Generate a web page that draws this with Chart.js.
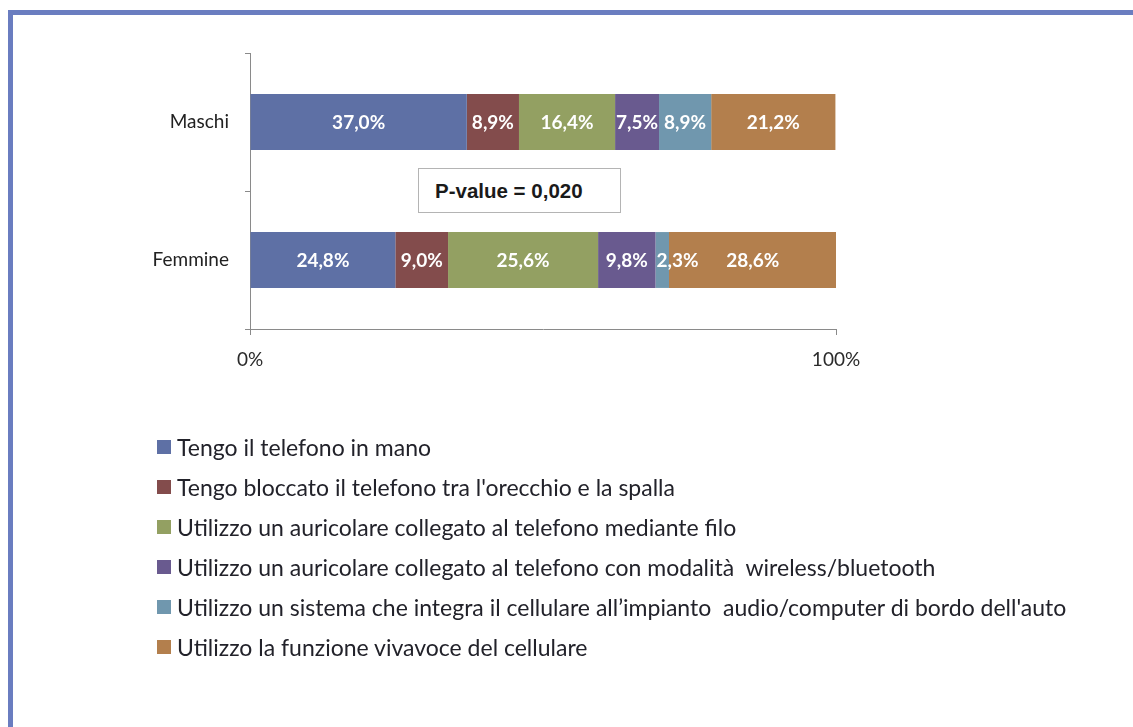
<!DOCTYPE html>
<html>
<head>
<meta charset="utf-8">
<script src="https://cdn.jsdelivr.net/npm/chart.js@4/dist/chart.umd.min.js"></script>
<style>
  html, body { margin: 0; padding: 0; background: #fff; overflow: hidden; }
  #wrap { position: relative; width: 1133px; height: 727px; overflow: hidden; background: #fff; }
  #frame { position: absolute; left: 8px; top: 10px; width: 1200px; height: 800px;
           border-left: 5px solid #6A7DC0; border-top: 5px solid #6A7DC0; box-sizing: border-box; }
  #chart { position: absolute; left: 0; top: 0; }
  #pbox { position: absolute; left: 418px; top: 168px; width: 203px; height: 45px; box-sizing: border-box;
          border: 1px solid #b4b4b4; background: #fff; font-family: "Liberation Sans", Arial, sans-serif;
          font-weight: bold; font-size: 20.5px; color: #1a1a1a; line-height: 43px; padding-left: 16px; }
  #legend { position: absolute; left: 157px; top: 427px; font-family: Lato, "Open Sans", sans-serif;
            font-size: 23px; color: #22222a; }
  .row { height: 40px; display: flex; align-items: center; white-space: pre; }
  .sw { width: 14px; height: 14px; margin-right: 6px; flex: none; }
</style>
</head>
<body>
<div id="wrap">
  <div id="frame"></div>
  <canvas id="chart" width="1133" height="727"></canvas>
  <div id="pbox"></div>
  <div id="legend"></div>
</div>
<script>
const categories = ['Maschi', 'Femmine'];
const seriesLabels = [
  'Tengo il telefono in mano',
  "Tengo bloccato il telefono tra l'orecchio e la spalla",
  'Utilizzo un auricolare collegato al telefono mediante filo',
  'Utilizzo un auricolare collegato al telefono con modalità  wireless/bluetooth',
  "Utilizzo un sistema che integra il cellulare all’impianto  audio/computer di bordo dell'auto",
  'Utilizzo la funzione vivavoce del cellulare'
];
const seriesColors = ['#5E70A5', '#834C4C', '#93A062', '#695A8F', '#7097AE', '#B37F4D'];
const maschiValues = [37.0, 8.9, 16.4, 7.5, 8.9, 21.2];
const femmineValues = [24.8, 9.0, 25.6, 9.8, 2.3, 28.6];
const xTickLabels = ['0%', '100%'];
const pValueText = 'P-value = 0,020';

const datasets = seriesLabels.map((lab, i) => ({
  label: lab,
  data: [maschiValues[i], femmineValues[i]],
  backgroundColor: seriesColors[i],
  borderWidth: 0,
  barPercentage: 0.405,
  categoryPercentage: 1.0
}));

const fmt = v => v.toFixed(1).replace('.', ',') + '%';

const labelPlugin = {
  id: 'segLabels',
  afterDatasetsDraw(chart) {
    const ctx = chart.ctx;
    ctx.save();
    ctx.font = 'bold 19px Lato, "Open Sans", sans-serif';
    ctx.fillStyle = '#ffffff';
    ctx.textBaseline = 'middle';
    chart.data.datasets.forEach((ds, di) => {
      const meta = chart.getDatasetMeta(di);
      meta.data.forEach((el, i) => {
        const txt = fmt(ds.data[i]);
        const w = ctx.measureText(txt).width;
        const segW = Math.abs(el.x - el.base);
        const left = Math.min(el.x, el.base);
        const cy = el.y + 1;
        if (w > segW) {
          ctx.textAlign = 'left';
          ctx.fillText(txt, left + 1, cy);
        } else {
          ctx.textAlign = 'center';
          ctx.fillText(txt, left + segW / 2, cy);
        }
      });
    });
    ctx.restore();
  }
};

const chart = new Chart(document.getElementById('chart'), {
  type: 'bar',
  data: { labels: categories, datasets },
  options: {
    indexAxis: 'y',
    responsive: false,
    animation: false,
    layout: { padding: { top: 53, right: 297, left: 0, bottom: 0 } },
    plugins: { legend: { display: false }, tooltip: { enabled: false } },
    scales: {
      x: {
        type: 'linear', stacked: true, min: 0, max: 100,
        afterFit(s) { s.height = 727 - 329; },
        afterBuildTicks(s) { s.ticks = [{ value: 0 }, { value: 100 }]; },
        ticks: {
          callback: (v) => xTickLabels[v === 0 ? 0 : 1],
          font: { family: 'Lato, "Open Sans", sans-serif', size: 19 },
          color: '#2a2a2a', padding: 13, maxRotation: 0
        },
        grid: { drawOnChartArea: false, drawTicks: true, tickLength: 6, color: '#8a8a8a' },
        border: { display: true, color: '#8a8a8a', width: 1 }
      },
      y: {
        type: 'category', stacked: true,
        afterFit(s) { s.width = 250; },
        ticks: {
          font: { family: 'Lato, "Open Sans", sans-serif', size: 19 },
          color: '#222222', padding: 16
        },
        grid: { offset: true, drawOnChartArea: false, drawTicks: true, tickLength: 5, color: '#8a8a8a' },
        border: { display: true, color: '#8a8a8a', width: 1 }
      }
    }
  },
  plugins: [labelPlugin]
});

document.getElementById('pbox').textContent = pValueText;
const legend = document.getElementById('legend');
chart.data.datasets.forEach(ds => {
  const row = document.createElement('div');
  row.className = 'row';
  const sw = document.createElement('span');
  sw.className = 'sw';
  sw.style.background = ds.backgroundColor;
  const t = document.createElement('span');
  t.textContent = ds.label;
  row.appendChild(sw);
  row.appendChild(t);
  legend.appendChild(row);
});
</script>
</body>
</html>
